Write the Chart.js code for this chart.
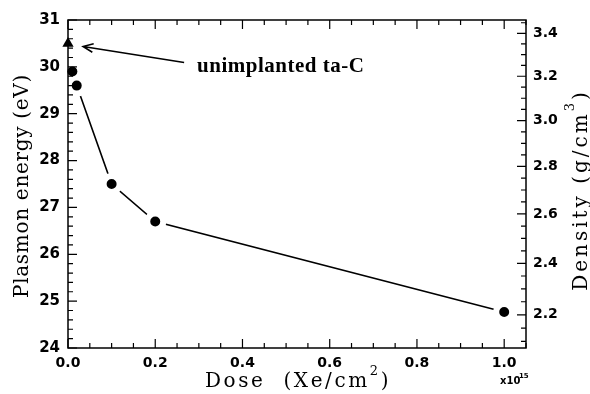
<!DOCTYPE html>
<html>
<head>
<meta charset="utf-8">
<script src="https://cdn.jsdelivr.net/npm/chart.js@4/dist/chart.umd.min.js"></script>
<style>
  html, body { margin: 0; padding: 0; background: #fff; }
  #wrap { width: 590px; height: 394px; }
</style>
</head>
<body>
<div id="wrap"><canvas id="plasmon" width="590" height="394"></canvas></div>
<script>
// implanted samples, joined by the line (dose in 1e15 Xe/cm2, plasmon energy in eV)
const lineDose = [0.02, 0.1, 0.2, 1.0];
const lineEnergy = [29.6, 27.5, 26.7, 24.77];
// lowest dose point, not on the line
const lowDose = [0.01];
const lowEnergy = [29.9];
// unimplanted ta-C reference
const refDose = [0];
const refEnergy = [30.5];

const energyTicks = [24, 25, 26, 27, 28, 29, 30, 31];
const doseTicks = [0, 0.2, 0.4, 0.6, 0.8, 1.0];
const densityTicks = [2.2, 2.4, 2.6, 2.8, 3.0, 3.2, 3.4];
const densityMinor = [2.1, 2.15, 2.25, 2.3, 2.35, 2.45, 2.5, 2.55, 2.65, 2.7, 2.75, 2.85, 2.9, 2.95,
                      3.05, 3.1, 3.15, 3.25, 3.3, 3.35, 3.45];
// density = E^2 / K  (free-electron relation used for the right axis)
const DENSITY_K = 277.5;

const titleFont = '20px "DejaVu Serif"';
const supFont = '13px "DejaVu Serif"';

function energyOfDensity(d) { return Math.sqrt(d * DENSITY_K); }

// text with one superscript piece, left aligned at (x, y) in the current frame
function supText(ctx, pre, sup, post, x, y, rise) {
  ctx.font = titleFont;
  const w1 = ctx.measureText(pre).width;
  ctx.fillText(pre, x, y);
  ctx.font = supFont;
  const w2 = ctx.measureText(sup).width;
  ctx.fillText(sup, x + w1, y - rise);
  ctx.font = titleFont;
  ctx.fillText(post, x + w1 + w2, y);
}
function supWidth(ctx, pre, sup, post) {
  ctx.font = titleFont;
  let w = ctx.measureText(pre).width + ctx.measureText(post).width;
  ctx.font = supFont;
  return w + ctx.measureText(sup).width;
}

// inward ticks and the frame, drawn on all four sides
const framePlugin = {
  id: 'frame',
  afterDatasetsDraw(chart) {
    const { ctx, chartArea: a, scales } = chart;
    const x = scales.x, y = scales.y, y2 = scales.y2;
    ctx.save();
    ctx.strokeStyle = '#000';
    ctx.lineWidth = 1.5;
    ctx.strokeRect(a.left, a.top, a.right - a.left, a.bottom - a.top);
    ctx.lineWidth = 1.2;
    ctx.beginPath();
    // dose ticks, bottom and top
    for (let i = 0; i <= 21; i++) {
      const px = x.getPixelForValue(i * 0.05);
      const len = (i % 4 === 0) ? 9 : 5;
      ctx.moveTo(px, a.bottom); ctx.lineTo(px, a.bottom - len);
      ctx.moveTo(px, a.top); ctx.lineTo(px, a.top + len);
    }
    // energy ticks, left
    for (let i = 0; i <= 35; i++) {
      const py = y.getPixelForValue(24 + i * 0.2);
      const len = (i % 5 === 0) ? 9 : 5;
      ctx.moveTo(a.left, py); ctx.lineTo(a.left + len, py);
    }
    // density ticks, right
    densityTicks.forEach(d => {
      const py = y2.getPixelForValue(energyOfDensity(d));
      ctx.moveTo(a.right, py); ctx.lineTo(a.right - 9, py);
    });
    densityMinor.forEach(d => {
      const py = y2.getPixelForValue(energyOfDensity(d));
      ctx.moveTo(a.right, py); ctx.lineTo(a.right - 5, py);
    });
    ctx.stroke();
    ctx.restore();
  },
  afterDraw(chart) {
    const { ctx, scales } = chart;
    const x = scales.x, y = scales.y;
    ctx.save();
    ctx.fillStyle = '#000';
    ctx.strokeStyle = '#000';
    ctx.textAlign = 'left';
    ctx.textBaseline = 'alphabetic';

    // left title
    ctx.save();
    ctx.letterSpacing = '0.7px';
    ctx.font = titleFont;
    ctx.translate(28, 186);
    ctx.rotate(-Math.PI / 2);
    const lt = 'Plasmon energy (eV)';
    ctx.fillText(lt, -ctx.measureText(lt).width / 2, 0);
    ctx.restore();

    // right title
    ctx.save();
    ctx.letterSpacing = '3px';
    ctx.translate(587, 190);
    ctx.rotate(-Math.PI / 2);
    const rw = supWidth(ctx, 'Density (g/cm', '3', ')');
    supText(ctx, 'Density (g/cm', '3', ')', -rw / 2, 0, 13);
    ctx.restore();

    // bottom title
    ctx.save();
    ctx.letterSpacing = '2.6px';
    const bw = supWidth(ctx, 'Dose  (Xe/cm', '2', ')');
    supText(ctx, 'Dose  (Xe/cm', '2', ')', 298 - bw / 2, 387, 12);
    ctx.restore();

    // x10^15 multiplier
    ctx.font = 'bold 10px "DejaVu Sans"';
    ctx.fillText('x10', 500, 384);
    ctx.font = 'bold 7px "DejaVu Sans"';
    ctx.fillText('15', 519, 378);

    // annotation and arrow to the unimplanted point
    const tx = x.getPixelForValue(0.296), ty = y.getPixelForValue(29.9);
    ctx.font = 'bold 21px "Liberation Serif"';
    ctx.letterSpacing = '0.5px';
    ctx.fillText('unimplanted ta-C', tx, ty);
    const tipX = x.getPixelForValue(refDose[0]) + 15, tipY = y.getPixelForValue(refEnergy[0]) + 3;
    const tailX = tx - 13, tailY = ty - 9;
    ctx.lineWidth = 1.5;
    ctx.beginPath();
    ctx.moveTo(tailX, tailY); ctx.lineTo(tipX, tipY);
    const ang = Math.atan2(tailY - tipY, tailX - tipX);
    ctx.moveTo(tipX + 11 * Math.cos(ang - 0.4), tipY + 11 * Math.sin(ang - 0.4));
    ctx.lineTo(tipX, tipY);
    ctx.lineTo(tipX + 11 * Math.cos(ang + 0.4), tipY + 11 * Math.sin(ang + 0.4));
    ctx.stroke();
    ctx.restore();
  }
};

const noGrid = { display: false, drawTicks: false };

new Chart(document.getElementById('plasmon'), {
  type: 'scatter',
  data: {
    datasets: [
      {
        data: lowDose.map((d, i) => ({ x: d, y: lowEnergy[i] })),
        pointRadius: 5, pointBackgroundColor: '#000', pointBorderWidth: 0,
        clip: false
      },
      {
        data: refDose.map((d, i) => ({ x: d, y: refEnergy[i] })),
        pointStyle: 'triangle', pointRadius: 6.5,
        pointBackgroundColor: '#000', pointBorderWidth: 0,
        clip: false
      },
      {
        data: lineDose.map((d, i) => ({ x: d, y: lineEnergy[i] })),
        showLine: true, borderColor: '#000', borderWidth: 1.6,
        pointRadius: 8, pointBackgroundColor: '#000',
        pointBorderColor: '#fff', pointBorderWidth: 6,
        clip: false
      }
    ]
  },
  options: {
    responsive: false,
    animation: false,
    events: [],
    devicePixelRatio: 1,
    layout: { padding: { top: 20, left: 0, right: 0, bottom: 0 } },
    plugins: { legend: { display: false }, tooltip: { enabled: false } },
    scales: {
      x: {
        type: 'linear', min: 0, max: 1.05,
        grid: noGrid, border: { display: false },
        afterBuildTicks: s => { s.ticks = doseTicks.map(v => ({ value: v })); },
        afterFit: s => { s.height = 46; },
        ticks: { font: { family: 'DejaVu Sans', size: 14, weight: 'bold' }, color: '#000',
                 padding: 7, maxRotation: 0, callback: v => v.toFixed(1) }
      },
      y: {
        position: 'left', min: 24, max: 31,
        grid: noGrid, border: { display: false },
        afterBuildTicks: s => { s.ticks = energyTicks.map(v => ({ value: v })); },
        afterFit: s => { s.width = 68; },
        ticks: { font: { family: 'DejaVu Sans', size: 15, weight: 'bold' }, color: '#000',
                 padding: 8, callback: v => String(v) }
      },
      y2: {
        position: 'right', min: 24, max: 31,
        grid: noGrid, border: { display: false },
        afterBuildTicks: s => { s.ticks = densityTicks.map(d => ({ value: energyOfDensity(d) })); },
        afterFit: s => { s.width = 64; },
        ticks: { font: { family: 'DejaVu Sans', size: 14, weight: 'bold' }, color: '#000',
                 padding: 7, callback: v => (v * v / DENSITY_K).toFixed(1) }
      }
    }
  },
  plugins: [framePlugin]
});
</script>
</body>
</html>
